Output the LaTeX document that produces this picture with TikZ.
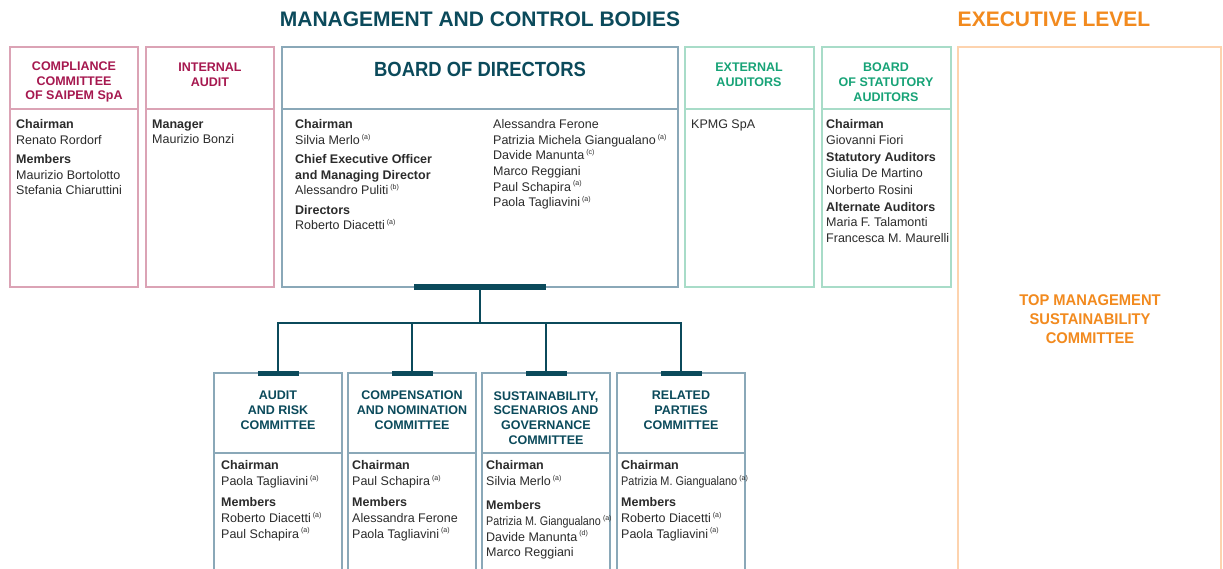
\documentclass[tikz,border=0pt]{standalone}
\usepackage{fontspec}
\setmainfont{Liberation Sans}
\usepackage{graphicx}
\definecolor{teal}{HTML}{0B4A5B}
\definecolor{tealB}{HTML}{8AA8B8}
\definecolor{crim}{HTML}{A6184F}
\definecolor{crimB}{HTML}{DBA3B5}
\definecolor{grn}{HTML}{17A377}
\definecolor{grnB}{HTML}{A8DCC8}
\definecolor{orng}{HTML}{F28A1E}
\definecolor{orngB}{HTML}{FDD3AE}
\definecolor{bodyc}{HTML}{2B2B2B}
\newcommand\sa[1]{\,\raisebox{0.42em}{\fontsize{7}{7}\selectfont(#1)}}
\newcommand\sq[1]{\scalebox{0.95}[1]{#1}}
\begin{document}
\begin{tikzpicture}[x=1pt,y=-1pt,
  box/.style={draw=#1, line width=1.3pt, inner sep=0pt, outer sep=0pt, anchor=north west, minimum width=128pt},
  divl/.style={draw=#1, line width=1.3pt},
  ttl/.style={text=#1, align=center, inner sep=0pt, font=\bfseries\fontsize{12.5}{14.8}\selectfont},
  head/.style={text=#1, inner sep=0pt, font=\bfseries\fontsize{21}{24}\selectfont},
  txt/.style={text=bodyc, anchor=north west, align=left, inner sep=0pt, font=\fontsize{12.5}{15.6}\selectfont},
  bar/.style={fill=teal, inner sep=0pt, outer sep=0pt, minimum height=#1},
  conn/.style={draw=teal, line width=1.4pt}]
\useasboundingbox (0,0) rectangle (1223,568);
\clip (0,0) rectangle (1223,568);
\fill[white] (0,0) rectangle (1223,568);

% headings
\node[head=teal] (h1) at (480,19.5) {MANAGEMENT AND CONTROL BODIES};
\node[head=orng] (h2) at (1054,19.5) {EXECUTIVE LEVEL};

% top boxes
\node[box=crimB, minimum width=128pt, minimum height=240pt] (comp) at (10,47) {};
\node[box=crimB, minimum width=128pt, minimum height=240pt] (ia) at (146,47) {};
\node[box=tealB, minimum width=396pt, minimum height=240pt] (bod) at (282,47) {};
\node[box=grnB, minimum width=129pt, minimum height=240pt] (ext) at (685,47) {};
\node[box=grnB, minimum width=129pt, minimum height=240pt] (stat) at (822,47) {};
\node[box=orngB, minimum width=263pt, minimum height=560pt] (exec) at (958,47) {};

\foreach \n/\c in {comp/crimB, ia/crimB, bod/tealB, ext/grnB, stat/grnB}
  \draw[divl=\c] ([yshift=-62pt]\n.north west) -- ([yshift=-62pt]\n.north east);

% committee boxes
\node[box=tealB, minimum width=128pt, minimum height=240pt] (c1) at (214,373) {};
\node[box=tealB, minimum width=128pt, minimum height=240pt] (c2) at (348,373) {};
\node[box=tealB, minimum width=128pt, minimum height=240pt] (c3) at (482,373) {};
\node[box=tealB, minimum width=128pt, minimum height=240pt] (c4) at (617,373) {};
\foreach \n in {c1,c2,c3,c4}
  \draw[divl=tealB] ([yshift=-80pt]\n.north west) -- ([yshift=-80pt]\n.north east);

% titles
\node[ttl=crim] (t1) at (74,82) {COMPLIANCE\\COMMITTEE\\OF SAIPEM SpA};
\node[ttl=crim] (t2) at (210,75) {INTERNAL\\AUDIT};
\node[ttl=teal, font=\bfseries\fontsize{20.5}{24}\selectfont] (t3) at (480,69) {\scalebox{0.9}[1]{BOARD OF DIRECTORS}};
\node[ttl=grn] (t4) at (749,75) {EXTERNAL\\AUDITORS};
\node[ttl=grn] (t5) at (886,82) {BOARD\\OF STATUTORY\\AUDITORS};
\node[ttl=orng, font=\bfseries\fontsize{15.5}{19}\selectfont] (t6) at (1090,319) {\sq{TOP MANAGEMENT}\\\sq{SUSTAINABILITY}\\\sq{COMMITTEE}};
\node[ttl=teal] (t7) at (278,410) {AUDIT\\AND RISK\\COMMITTEE};
\node[ttl=teal] (t8) at (412,410) {COMPENSATION\\AND NOMINATION\\COMMITTEE};
\node[ttl=teal] (t9) at (546,418) {SUSTAINABILITY,\\SCENARIOS AND\\GOVERNANCE\\COMMITTEE};
\node[ttl=teal] (t10) at (681,410) {RELATED\\PARTIES\\COMMITTEE};

% body texts
\node[txt] (x1) at (16,119.5) {\textbf{Chairman}\\Renato Rordorf\\[3.5pt]\textbf{Members}\\Maurizio Bortolotto\\Stefania Chiaruttini};
\node[txt] (x2) at (152,119.5) {\textbf{Manager}\\Maurizio Bonzi};
\node[txt] (x3) at (295,119.5) {\textbf{Chairman}\\Silvia Merlo\sa{a}\\[3.5pt]\textbf{Chief Executive Officer}\\\textbf{and Managing Director}\\Alessandro Puliti\sa{b}\\[4pt]\textbf{Directors}\\Roberto Diacetti\sa{a}};
\node[txt] (x4) at (493,119.5) {Alessandra Ferone\\Patrizia Michela Giangualano\sa{a}\\Davide Manunta\sa{c}\\Marco Reggiani\\Paul Schapira\sa{a}\\Paola Tagliavini\sa{a}};
\node[txt] (x5) at (691,119.5) {KPMG SpA};
\node[txt] (x6) at (826,119.5) {\textbf{Chairman}\\Giovanni Fiori\\[1.5pt]\textbf{Statutory Auditors}\\Giulia De Martino\\[1.5pt]Norberto Rosini\\[1.5pt]\textbf{Alternate Auditors}\\Maria F. Talamonti\\Francesca M. Maurelli};
\node[txt] (x7) at (221,460.5) {\textbf{Chairman}\\Paola Tagliavini\sa{a}\\[6pt]\textbf{Members}\\Roberto Diacetti\sa{a}\\Paul Schapira\sa{a}};
\node[txt] (x8) at (352,460.5) {\textbf{Chairman}\\Paul Schapira\sa{a}\\[6pt]\textbf{Members}\\Alessandra Ferone\\Paola Tagliavini\sa{a}};
\node[txt] (x9) at (486,460.5) {\textbf{Chairman}\\Silvia Merlo\sa{a}\\[9pt]\textbf{Members}\\\scalebox{0.86}[1]{Patrizia M. Giangualano}\sa{a}\\Davide Manunta\sa{d}\\Marco Reggiani};
\node[txt] (x10) at (621,460.5) {\textbf{Chairman}\\\scalebox{0.87}[1]{Patrizia M. Giangualano}\sa{a}\\[6pt]\textbf{Members}\\Roberto Diacetti\sa{a}\\Paola Tagliavini\sa{a}};

% connectors
\coordinate (hub) at (480,323);
\node[bar=6pt, minimum width=132pt] (bb) at (480,287) {};
\node[bar=5.5pt, minimum width=41pt] (b1) at (278,373.5) {};
\node[bar=5.5pt, minimum width=41pt] (b2) at (412,373.5) {};
\node[bar=5.5pt, minimum width=41pt] (b3) at (546,373.5) {};
\node[bar=5.5pt, minimum width=41pt] (b4) at (681,373.5) {};
\draw[conn] (bb.south) -- (hub);
\draw[conn] (hub) -| (b1.north);
\draw[conn] (hub) -| (b2.north);
\draw[conn] (hub) -| (b3.north);
\draw[conn] (hub) -| (b4.north);
\end{tikzpicture}
\end{document}
